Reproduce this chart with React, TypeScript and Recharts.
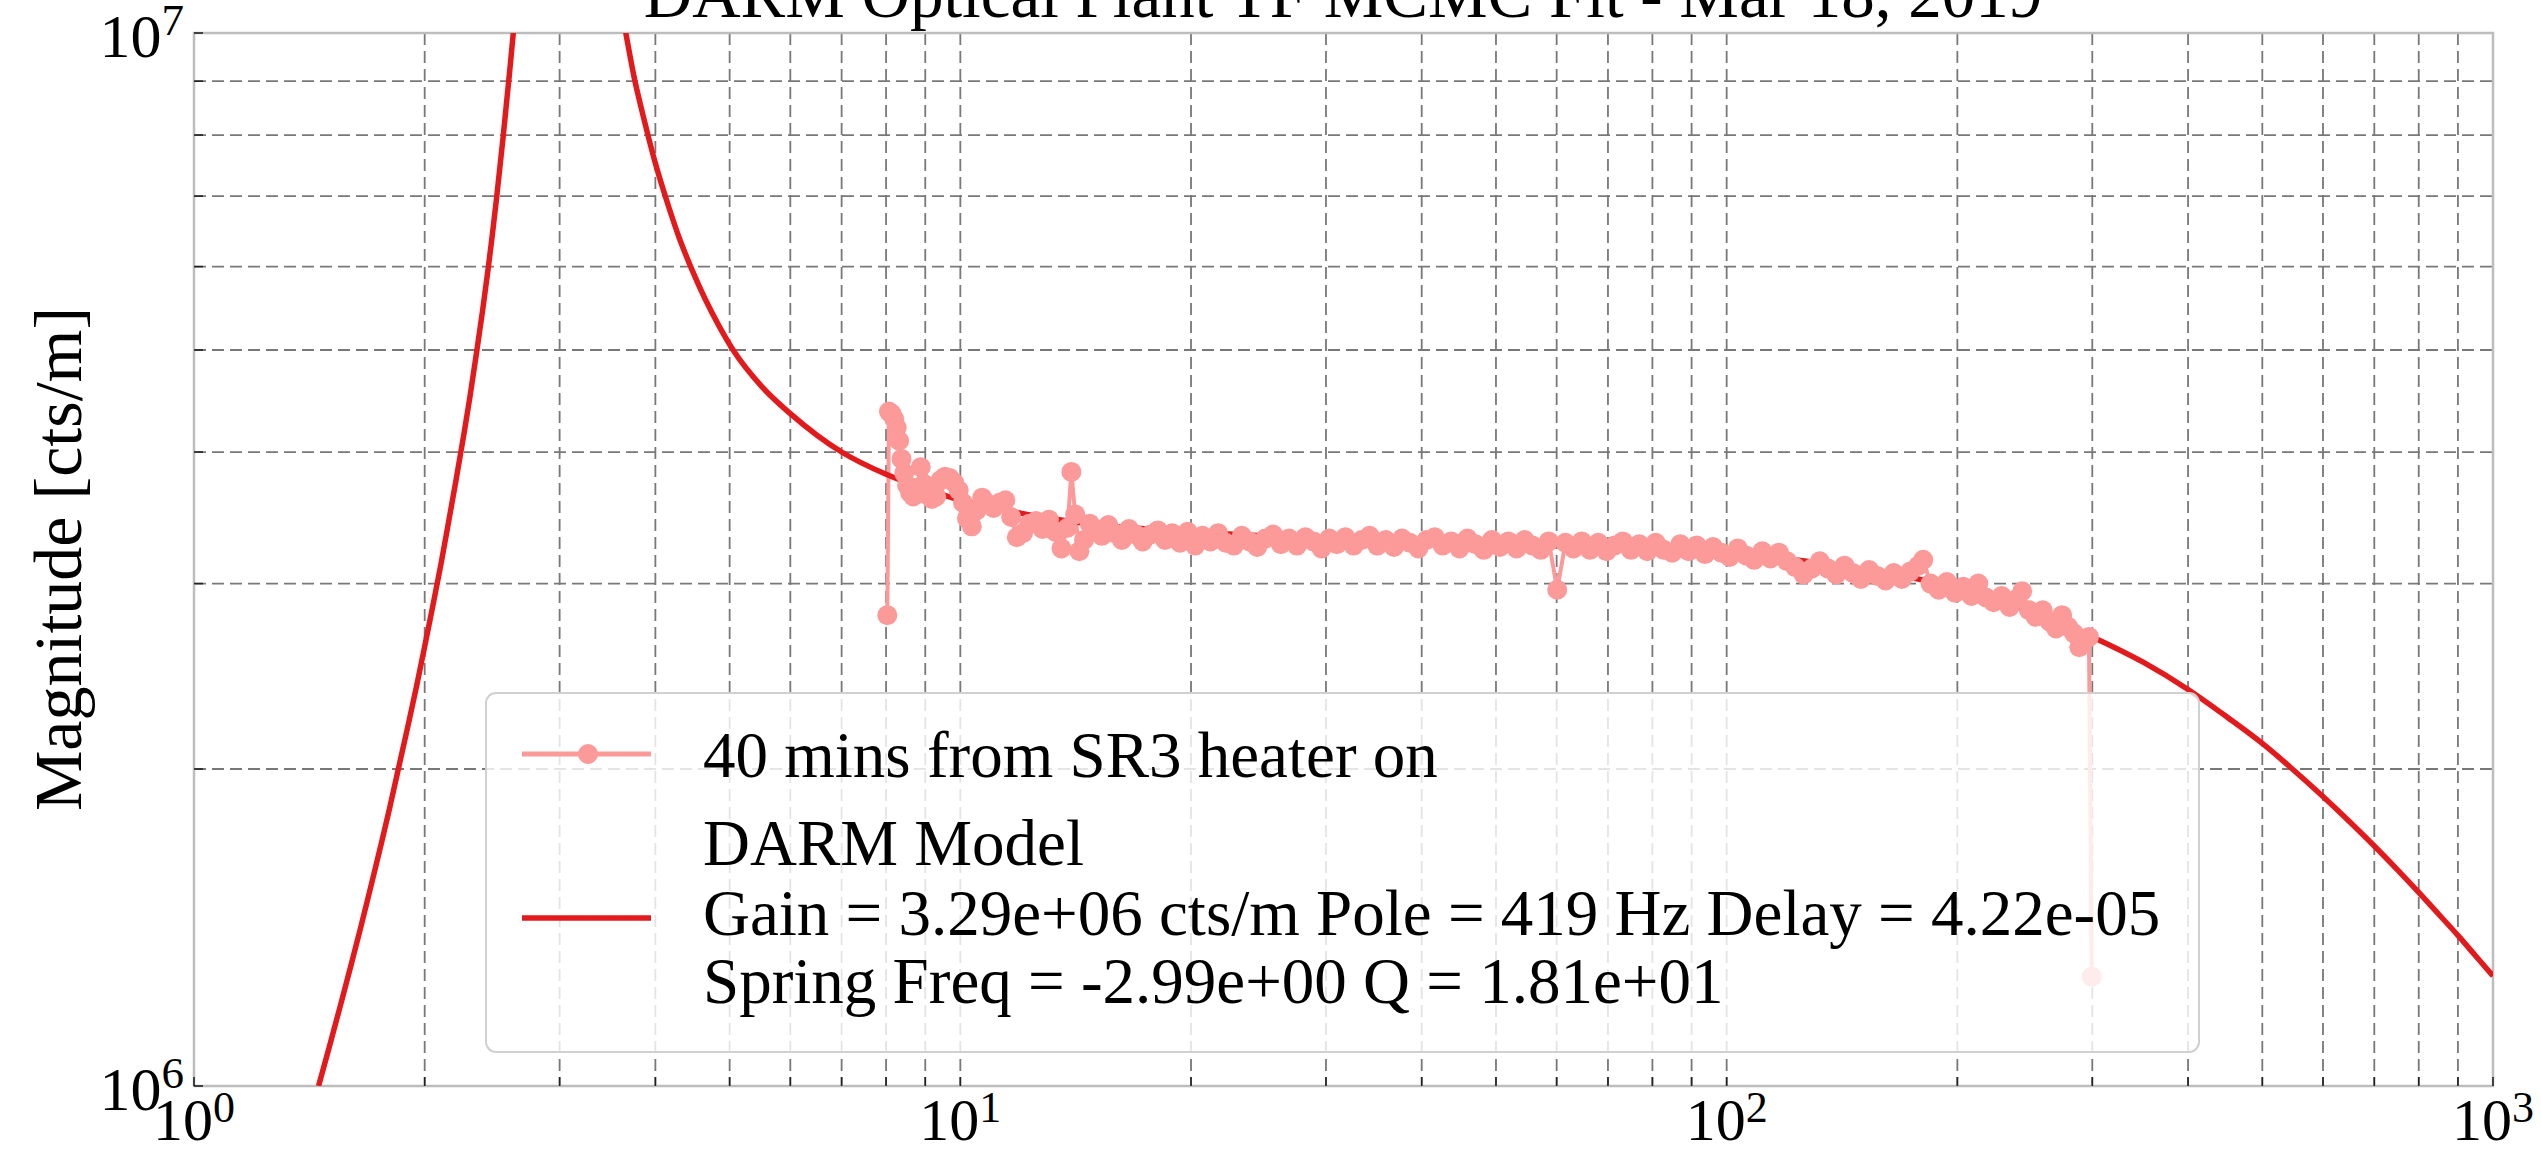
import React from 'react';
import { LineChart, Line, XAxis, YAxis, CartesianGrid, ReferenceArea } from 'recharts';

// ---- axis ticks ----
const xTicks = [1, 2, 3, 4, 5, 6, 7, 8, 9, 10, 20, 30, 40, 50, 60, 70, 80, 90, 100, 200, 300, 400, 500, 600, 700, 800, 900, 1000];
const yTicks = [1e6, 2e6, 3e6, 4e6, 5e6, 6e6, 7e6, 8e6, 9e6, 1e7];

// ---- measured transfer function: 40 mins from SR3 heater on ----
const dataFreq = [
  8.03, 8.07, 8.13, 8.2, 8.26, 8.32, 8.38, 8.45, 8.52, 8.6,
  8.68, 8.78, 8.88, 8.97, 9.07, 9.18, 9.3, 9.42, 9.55, 9.68,
  9.82, 9.95, 10.08, 10.2, 10.35, 10.5, 10.68, 10.86, 11.05, 11.25,
  11.45, 11.65, 11.85, 12.07, 12.3, 12.55, 12.8, 13.05, 13.3, 13.55,
  13.8, 13.96, 14.12, 14.3, 14.5, 14.75, 15.0, 15.3, 15.6, 15.9,
  16.25, 16.6, 16.95, 17.3, 17.7, 18.1, 18.5, 18.9, 19.35, 19.8,
  20.25, 20.7, 21.2, 21.7, 22.2, 22.75, 23.3, 23.85, 24.4, 25.0,
  25.6, 26.2, 26.85, 27.5, 28.2, 28.9, 29.6, 30.3, 31.0, 31.8,
  32.6, 33.4, 34.2, 35.0, 35.9, 36.8, 37.7, 38.6, 39.6, 40.6,
  41.6, 42.6, 43.7, 44.8, 45.9, 47.0, 48.2, 49.4, 50.6, 51.9,
  53.2, 54.5, 55.8, 57.2, 58.6, 60.1, 61.6, 63.1, 64.7, 66.3,
  68.0, 69.7, 71.4, 73.2, 75.0, 76.9, 78.8, 80.8, 82.8, 84.9,
  87.0, 89.2, 91.4, 93.7, 96.0, 98.4, 100.9, 103.4, 106.0, 108.6,
  111.3, 114.1, 117.0, 119.9, 122.9, 126.0, 129.1, 132.3, 135.6, 139.0,
  142.5, 146.1, 149.7, 153.4, 157.3, 161.2, 165.2, 169.3, 173.6, 177.9,
  180.5, 184.5, 189.1, 193.8, 198.7, 203.6, 208.7, 213.0, 218.0, 223.0,
  228.5, 234.0, 239.0, 243.0, 248.0, 253.0, 258.5, 264.0, 269.0, 274.0,
  279.0, 284.0, 288.5, 293.0, 297.0, 299.5,
];
const dataMag = [
  2.80e6, 4.37e6, 4.35e6, 4.30e6, 4.22e6, 4.10e6, 3.94e6, 3.82e6, 3.72e6, 3.66e6,
  3.63e6, 3.70e6, 3.87e6, 3.73e6, 3.64e6, 3.61e6, 3.63e6, 3.76e6, 3.79e6, 3.78e6,
  3.74e6, 3.68e6, 3.58e6, 3.46e6, 3.40e6, 3.52e6, 3.62e6, 3.57e6, 3.54e6, 3.58e6,
  3.60e6, 3.47e6, 3.32e6, 3.35e6, 3.42e6, 3.44e6, 3.38e6, 3.45e6, 3.36e6, 3.24e6,
  3.39e6, 3.83e6, 3.49e6, 3.22e6, 3.30e6, 3.42e6, 3.38e6, 3.33e6, 3.41e6, 3.35e6,
  3.30e6, 3.38e6, 3.34e6, 3.29e6, 3.34e6, 3.37e6, 3.30e6, 3.35e6, 3.28e6, 3.36e6,
  3.26e6, 3.33e6, 3.29e6, 3.35e6, 3.28e6, 3.26e6, 3.33e6, 3.29e6, 3.25e6, 3.31e6,
  3.34e6, 3.27e6, 3.31e6, 3.26e6, 3.32e6, 3.29e6, 3.24e6, 3.31e6, 3.27e6, 3.32e6,
  3.26e6, 3.30e6, 3.33e6, 3.26e6, 3.30e6, 3.25e6, 3.31e6, 3.28e6, 3.24e6, 3.30e6,
  3.32e6, 3.26e6, 3.29e6, 3.24e6, 3.31e6, 3.27e6, 3.23e6, 3.30e6, 3.25e6, 3.29e6,
  3.24e6, 3.30e6, 3.26e6, 3.23e6, 3.29e6, 2.96e6, 3.28e6, 3.24e6, 3.29e6, 3.23e6,
  3.28e6, 3.22e6, 3.26e6, 3.29e6, 3.23e6, 3.27e6, 3.22e6, 3.28e6, 3.23e6, 3.21e6,
  3.27e6, 3.22e6, 3.26e6, 3.20e6, 3.25e6, 3.21e6, 3.18e6, 3.24e6, 3.19e6, 3.16e6,
  3.22e6, 3.17e6, 3.21e6, 3.15e6, 3.11e6, 3.06e6, 3.10e6, 3.15e6, 3.10e6, 3.06e6,
  3.12e6, 3.07e6, 3.03e6, 3.09e6, 3.05e6, 3.02e6, 3.07e6, 3.03e6, 3.08e6, 3.12e6,
  3.16e6, 3.00e6, 2.96e6, 3.01e6, 2.94e6, 2.98e6, 2.92e6, 3.00e6, 2.91e6, 2.88e6,
  2.92e6, 2.85e6, 2.90e6, 2.95e6, 2.83e6, 2.79e6, 2.83e6, 2.76e6, 2.72e6, 2.80e6,
  2.73e6, 2.69e6, 2.61e6, 2.65e6, 2.67e6, 1.27e6,
];

// ---- DARM model curve (the resonance peak runs off the top) ----
const modelFreq = [
  1.454, 1.5, 1.55, 1.6, 1.65, 1.7, 1.75, 1.8, 1.842, 1.9,
  1.95, 2.0, 2.05, 2.1, 2.15, 2.2, 2.25, 2.29, 2.34, 2.38,
  2.42, 2.45, 2.48, 2.53, 2.58, 2.61, 2.66, 2.72, 2.8, 2.9,
  2.99, 3.1, 3.25, 3.4, 3.55, 3.66, 3.75, 3.85, 3.92, 4.0,
  4.16, 4.3, 4.46, 4.65, 4.85, 5.07, 5.5, 6.0, 6.5, 7.0,
  8.0, 9.0, 10, 11.3, 12.5, 15.2, 20, 30, 40, 50,
  70, 100, 136, 170, 200, 228, 260, 300, 350, 400,
  450, 500, 543, 600, 650, 700, 750, 800, 850, 900,
  950, 1000,
];
const modelMag = [
  1.0e6, 1.086e6, 1.187e6, 1.296e6, 1.414e6, 1.543e6, 1.683e6, 1.836e6, 1.98e6, 2.19e6,
  2.39e6, 2.615e6, 2.86e6, 3.13e6, 3.44e6, 3.78e6, 4.16e6, 4.50e6, 5.0e6, 5.45e6,
  5.97e6, 6.42e6, 6.93e6, 7.93e6, 9.15e6, 1.0e7, 1.2e7, 1.55e7, 2.2e7, 3.5e7,
  5.0e7, 3.6e7, 2.1e7, 1.45e7, 1.13e7, 1.0e7, 9.1e6, 8.38e6, 7.95e6, 7.52e6,
  6.85e6, 6.38e6, 5.97e6, 5.58e6, 5.26e6, 4.98e6, 4.62e6, 4.35e6, 4.15e6, 4.0e6,
  3.81e6, 3.69e6, 3.60e6, 3.53e6, 3.48e6, 3.41e6, 3.36e6, 3.31e6, 3.29e6, 3.275e6,
  3.25e6, 3.21e6, 3.13e6, 3.05e6, 2.97e6, 2.89e6, 2.79e6, 2.67e6, 2.525e6, 2.38e6,
  2.24e6, 2.115e6, 2.01e6, 1.883e6, 1.782e6, 1.69e6, 1.605e6, 1.527e6, 1.455e6, 1.39e6,
  1.328e6, 1.272e6,
];

const measured = dataFreq.map((f, i) => ({ f, m: dataMag[i] }));
const model = modelFreq.map((f, i) => ({ f, m: modelMag[i] }));

const TITLE = 'DARM Optical Plant TF MCMC Fit - Mar 18, 2019';
const YLABEL = 'Magnitude [cts/m]';
const LEG_DATA = '40 mins from SR3 heater on';
const LEG_MODEL = [
  'DARM Model',
  'Gain = 3.29e+06 cts/m Pole = 419 Hz Delay = 4.22e-05',
  'Spring Freq = -2.99e+00 Q = 1.81e+01',
];

const FONT = '"Liberation Serif", "DejaVu Serif", "Times New Roman", serif';
const DATA_COLOR = '#fb9a99';
const MODEL_COLOR = '#e31a1c';
const MARKER_R = 10;

const W = 2541;
const H = 1153;

const exponent = (v: number) => Math.round(Math.log10(v));
const isMajor = (v: number) => Math.abs(Math.log10(v) - exponent(v)) < 1e-9;

function XTick(props: any) {
  const { x, y, payload } = props;
  const v = payload.value;
  return (
    <g>
      <line x1={x} x2={x} y1={y} y2={y - 9} stroke="#222" strokeWidth={1.6} />
      {isMajor(v) && (
        <text x={x} y={y + 54} textAnchor="middle" fontFamily={FONT} fontSize={60} fill="#000">
          <tspan>10</tspan>
          <tspan dy={-18} fontSize={44}>{exponent(v)}</tspan>
        </text>
      )}
    </g>
  );
}

function YTick(props: any) {
  const { x, y, payload } = props;
  const v = payload.value;
  return (
    <g>
      <line x1={x} x2={x + 9} y1={y} y2={y} stroke="#222" strokeWidth={1.6} />
      {isMajor(v) && (
        <text x={x - 10} y={y + 24} textAnchor="end" fontFamily={FONT} fontSize={62} fill="#000">
          <tspan>10</tspan>
          <tspan dy={-22} fontSize={45}>{exponent(v)}</tspan>
        </text>
      )}
    </g>
  );
}

function DataDot(props: any) {
  const { cx, cy, index } = props;
  if (cx == null || cy == null) return <g key={index} />;
  return <circle key={index} cx={cx} cy={cy} r={MARKER_R} fill={DATA_COLOR} />;
}

export default function App() {
  return (
    <div style={{ position: 'absolute', left: 0, top: 0, width: W, height: H, background: '#fff', overflow: 'hidden' }}>
      <LineChart width={W} height={H} margin={{ top: 33, right: 48, bottom: 0, left: 0 }}>
        <CartesianGrid stroke="#787878" strokeDasharray="12 6" strokeWidth={1.8} />
        <XAxis
          dataKey="f"
          type="number"
          scale="log"
          domain={[1, 1000]}
          allowDataOverflow
          ticks={xTicks}
          interval={0}
          height={67}
          axisLine={false}
          tickLine={false}
          tickSize={0}
          tickMargin={0}
          tick={<XTick />}
        />
        <YAxis
          dataKey="m"
          type="number"
          scale="log"
          domain={[1e6, 1e7]}
          allowDataOverflow
          ticks={yTicks}
          interval={0}
          width={194}
          axisLine={false}
          tickLine={false}
          tickSize={0}
          tickMargin={0}
          tick={<YTick />}
        />
        <Line
          data={measured}
          dataKey="m"
          type="linear"
          stroke={DATA_COLOR}
          strokeWidth={4}
          dot={<DataDot />}
          activeDot={false}
          isAnimationActive={false}
        />
        <Line
          data={model}
          dataKey="m"
          type="monotone"
          stroke={MODEL_COLOR}
          strokeWidth={5.5}
          dot={false}
          activeDot={false}
          isAnimationActive={false}
        />
        <ReferenceArea x1={1} x2={1000} y1={1e6} y2={1e7} fill="none" stroke="#bdbdbd" strokeWidth={2.5} ifOverflow="visible" />
      </LineChart>
      <svg width={W} height={H} style={{ position: 'absolute', left: 0, top: 0, pointerEvents: 'none' }}>
        <text x={1343} y={17} textAnchor="middle" fontFamily={FONT} fontSize={67} fill="#000">{TITLE}</text>
        <text transform="translate(81,559) rotate(-90)" textAnchor="middle" fontFamily={FONT} fontSize={68} fill="#000">{YLABEL}</text>
        <rect x={486} y={693} width={1713} height={359} rx={10} ry={10} fill="#fff" fillOpacity={0.8} stroke="#d0d0d0" strokeWidth={2} />
        <line x1={522} x2={651} y1={754} y2={754} stroke={DATA_COLOR} strokeWidth={5} />
        <circle cx={588} cy={754} r={MARKER_R} fill={DATA_COLOR} />
        <text x={703} y={777} fontFamily={FONT} fontSize={65} fill="#000">{LEG_DATA}</text>
        <line x1={522} x2={651} y1={918} y2={918} stroke={MODEL_COLOR} strokeWidth={5.5} />
        <text x={703} y={865} fontFamily={FONT} fontSize={65} fill="#000">{LEG_MODEL[0]}</text>
        <text x={703} y={935} fontFamily={FONT} fontSize={65} fill="#000">{LEG_MODEL[1]}</text>
        <text x={703} y={1003} fontFamily={FONT} fontSize={65} fill="#000">{LEG_MODEL[2]}</text>
      </svg>
    </div>
  );
}
